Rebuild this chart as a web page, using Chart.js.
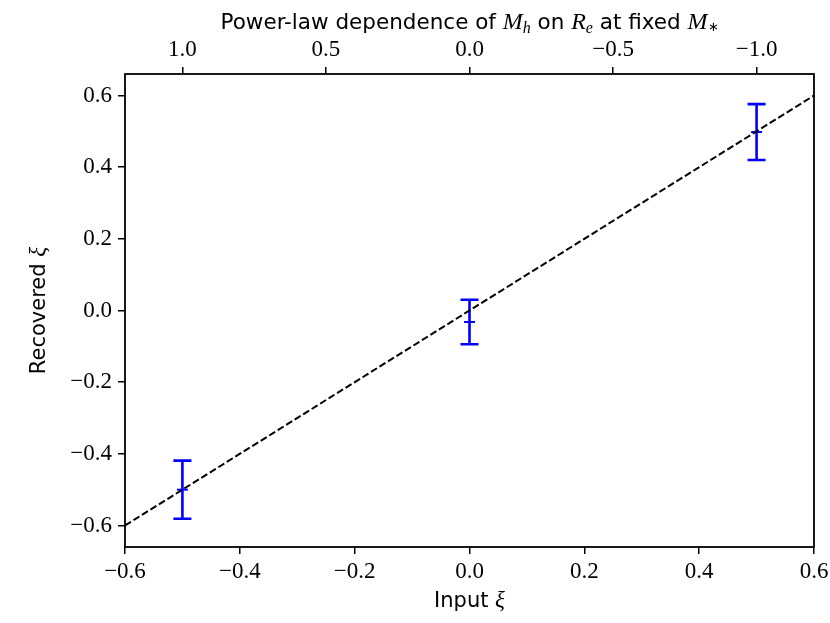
<!DOCTYPE html>
<html>
<head>
<meta charset="utf-8">
<script src="https://cdn.jsdelivr.net/npm/chart.js@4.4.1/dist/chart.umd.min.js"></script>
<style>
  body { margin: 0; background: #fff; }
  #wrap { width: 830px; height: 623px; }
</style>
</head>
<body>
<div id="wrap"><canvas id="myChart" width="830" height="623"></canvas></div>
<script>
// values
const inputXi = [-0.5, 0.0, 0.5];
const recoveredXi = [-0.500, -0.032, 0.498];
const recoveredErr = [0.081, 0.062, 0.078];
const oneToOneX = [-0.6, 0.6];
const oneToOneY = [-0.6, 0.6];
const bottomTicks = [-0.6, -0.4, -0.2, 0.0, 0.2, 0.4, 0.6];
const leftTicks = [-0.6, -0.4, -0.2, 0.0, 0.2, 0.4, 0.6];
const topTicks = [1.0, 0.5, 0.0, -0.5, -1.0]; // power-law index = -2 * xi

const serif = "'Liberation Serif', serif";
const sans = "'DejaVu Sans', sans-serif";
const tickFont = { family: serif, size: 23 };

function fmt(v) {
    return (v < 0 ? '\u2212' : '') + Math.abs(v).toFixed(1);
}

// draws a line of text made of several font pieces, centred on cx
function drawRich(ctx, parts, cx, baseY, angle) {
    ctx.save();
    ctx.translate(cx, baseY);
    if (angle) ctx.rotate(angle);
    ctx.textBaseline = 'alphabetic';
    ctx.textAlign = 'left';
    ctx.fillStyle = '#000';
    var total = 0;
    for (var i = 0; i < parts.length; i++) {
        ctx.font = parts[i][1];
        total += ctx.measureText(parts[i][0]).width;
    }
    var x = -total / 2;
    for (var i = 0; i < parts.length; i++) {
        ctx.font = parts[i][1];
        ctx.fillText(parts[i][0], x, parts[i][2] || 0);
        x += ctx.measureText(parts[i][0]).width;
    }
    ctx.restore();
}

const errorBars = {
    id: 'errorBars',
    beforeDatasetsDraw(chart) {
        const ctx = chart.ctx;
        const xs = chart.scales.x, ys = chart.scales.y;
        ctx.save();
        ctx.strokeStyle = '#0000ff';
        ctx.lineWidth = 2.6;
        for (var i = 0; i < inputXi.length; i++) {
            var px = xs.getPixelForValue(inputXi[i]);
            var top = ys.getPixelForValue(recoveredXi[i] + recoveredErr[i]);
            var bot = ys.getPixelForValue(recoveredXi[i] - recoveredErr[i]);
            ctx.beginPath();
            ctx.moveTo(px, top); ctx.lineTo(px, bot);
            ctx.moveTo(px - 9, top); ctx.lineTo(px + 9, top);
            ctx.moveTo(px - 9, bot); ctx.lineTo(px + 9, bot);
            ctx.stroke();
        }
        ctx.restore();
    },
    afterDraw(chart) {
        const ctx = chart.ctx;
        const a = chart.chartArea;
        ctx.save();
        ctx.strokeStyle = '#000';
        ctx.lineWidth = 1.8;
        ctx.strokeRect(a.left, a.top, a.right - a.left, a.bottom - a.top);
        ctx.restore();

        var cx = (a.left + a.right) / 2;
        var cy = (a.top + a.bottom) / 2;
        var s = '21px ' + sans;
        var ts = '21.5px ' + sans;
        var mi = 'italic 23px ' + serif;
        var tmi = 'italic 24px ' + serif;
        var sub = 'italic 16px ' + serif;
        drawRich(ctx, [
            ['Power-law dependence of ', ts], ['M', tmi], ['h', sub, 4],
            [' on ', ts], ['R', tmi], ['e', sub, 4],
            [' at fixed ', ts], ['M', tmi], ['\u2217', '13px ' + serif, 2]
        ], cx, 29);
        drawRich(ctx, [['Input ', s], ['\u03be', mi]], cx, 607);
        drawRich(ctx, [['Recovered ', s], ['\u03be', mi]], 45, cy, -Math.PI / 2);
    }
};

const tickGrid = { drawOnChartArea: false, drawTicks: true, tickLength: 7, color: '#000', lineWidth: 1.5 };

function noSidePad(s) {
    s.paddingLeft = 0;
    s.paddingRight = 0;
}

const config = {
    data: {
        datasets: [{
            type: 'line',
            data: oneToOneX.map((v, i) => ({ x: v, y: oneToOneY[i] })),
            borderColor: '#000',
            borderWidth: 2,
            borderDash: [7, 3],
            pointRadius: 0,
            fill: false
        }, {
            type: 'scatter',
            data: inputXi.map((v, i) => ({ x: v, y: recoveredXi[i] })),
            pointStyle: 'line',
            radius: 5.5,
            borderColor: '#0000ff',
            borderWidth: 2
        }]
    },
    options: {
        responsive: false,
        animation: false,
        layout: { padding: { left: 0, right: 16, top: 0, bottom: 0 } },
        plugins: { legend: { display: false }, tooltip: { enabled: false } },
        scales: {
            x: {
                type: 'linear', position: 'bottom', min: -0.6, max: 0.6,
                afterBuildTicks: s => { s.ticks = bottomTicks.map(v => ({ value: v })); },
                afterFit: s => { s.height = 76; noSidePad(s); },
                ticks: { font: tickFont, color: '#000', padding: 4, maxRotation: 0, callback: fmt },
                grid: tickGrid,
                border: { display: false }
            },
            x2: {
                type: 'linear', position: 'top', min: -1.2, max: 1.2, reverse: true,
                afterBuildTicks: s => { s.ticks = topTicks.map(v => ({ value: v })); },
                afterFit: s => { s.height = 74; noSidePad(s); },
                ticks: { font: tickFont, color: '#000', padding: 3, maxRotation: 0, callback: fmt },
                grid: tickGrid,
                border: { display: false }
            },
            y: {
                type: 'linear', position: 'left', min: -0.66, max: 0.66,
                afterBuildTicks: s => { s.ticks = leftTicks.map(v => ({ value: v })); },
                afterFit: s => { s.width = 125; },
                ticks: { font: tickFont, color: '#000', padding: 6, callback: fmt },
                grid: tickGrid,
                border: { display: false }
            }
        }
    },
    plugins: [errorBars]
};

const my_chart = new Chart(document.getElementById('myChart'), config);
</script>
</body>
</html>
